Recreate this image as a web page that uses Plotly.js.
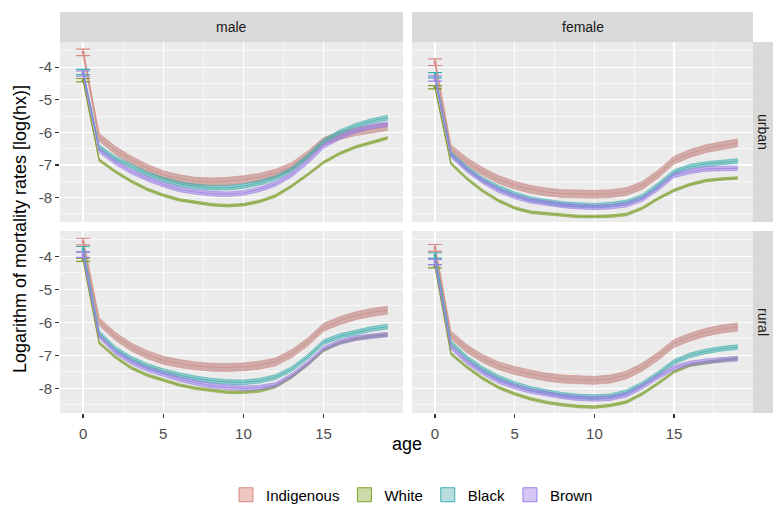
<!DOCTYPE html>
<html><head><meta charset="utf-8">
<script src="https://cdn.plot.ly/plotly-3.0.1.min.js"></script>
<style>body{margin:0;background:#fff}#chart{width:773px;height:506px}</style>
</head><body><div id="chart"></div>
<script>
const ages = [0,1,2,3,4,5,6,7,8,9,10,11,12,13,14,15,16,17,18,19];
const races = ['Indigenous','White','Black','Brown'];
const yTickVals = [-8,-7,-6,-5,-4];
const yTickText = ['-8','-7','-6','-5','-4'];
const lineColors = ['#D98A84','#7E9E2A','#3DAFB0','#9A80E6'];
const fills = ['rgba(180,120,115,0.55)','rgba(124,160,40,0.5)','rgba(60,170,170,0.5)','rgba(150,120,230,0.5)'];
const legendFills = ['rgba(230,160,155,0.6)','rgba(170,195,110,0.6)','rgba(140,200,200,0.6)','rgba(185,160,240,0.6)'];
// half-width of confidence band (ribbon) and of age-0 error bar, per race
const ciHalf = [0.12, 0.04, 0.07, 0.07];
const errHalf0 = [0.1, 0.05, 0.08, 0.08];

const maleUrbanIndigenous = [-3.55,-6.15,-6.55,-6.85,-7.1,-7.3,-7.42,-7.5,-7.52,-7.5,-7.45,-7.38,-7.25,-7.05,-6.7,-6.28,-6.1,-5.98,-5.9,-5.82];
const maleUrbanWhite      = [-4.4,-6.85,-7.2,-7.5,-7.75,-7.93,-8.07,-8.15,-8.22,-8.25,-8.22,-8.12,-7.95,-7.65,-7.3,-6.92,-6.65,-6.45,-6.3,-6.17];
const maleUrbanBlack      = [-4.15,-6.45,-6.8,-7.05,-7.28,-7.45,-7.58,-7.66,-7.7,-7.7,-7.65,-7.55,-7.4,-7.15,-6.75,-6.28,-6.0,-5.8,-5.65,-5.55];
const maleUrbanBrown      = [-4.2,-6.55,-6.92,-7.2,-7.42,-7.6,-7.75,-7.83,-7.88,-7.9,-7.86,-7.75,-7.58,-7.3,-6.9,-6.42,-6.15,-5.95,-5.82,-5.75];

const femaleUrbanIndigenous = [-3.85,-6.5,-6.9,-7.2,-7.45,-7.62,-7.75,-7.83,-7.88,-7.9,-7.9,-7.88,-7.82,-7.63,-7.28,-6.85,-6.65,-6.5,-6.4,-6.32];
const femaleUrbanWhite      = [-4.62,-6.95,-7.42,-7.8,-8.1,-8.32,-8.45,-8.5,-8.55,-8.58,-8.58,-8.57,-8.52,-8.33,-8.03,-7.78,-7.6,-7.48,-7.43,-7.4];
const femaleUrbanBlack      = [-4.25,-6.65,-7.1,-7.45,-7.7,-7.9,-8.05,-8.13,-8.2,-8.23,-8.25,-8.22,-8.15,-7.98,-7.62,-7.22,-7.05,-6.97,-6.92,-6.88];
const femaleUrbanBrown      = [-4.35,-6.7,-7.15,-7.5,-7.78,-7.97,-8.1,-8.18,-8.24,-8.28,-8.3,-8.28,-8.22,-8.05,-7.72,-7.32,-7.2,-7.12,-7.1,-7.1];

const maleRuralIndigenous = [-3.55,-5.98,-6.42,-6.75,-6.98,-7.15,-7.25,-7.32,-7.36,-7.37,-7.35,-7.3,-7.2,-6.95,-6.6,-6.15,-5.95,-5.8,-5.7,-5.63];
const maleRuralWhite      = [-4.1,-6.62,-7.05,-7.38,-7.6,-7.75,-7.9,-8.0,-8.07,-8.12,-8.12,-8.08,-7.95,-7.66,-7.28,-6.85,-6.62,-6.5,-6.42,-6.38];
const maleRuralBlack      = [-3.78,-6.32,-6.8,-7.1,-7.32,-7.48,-7.6,-7.7,-7.77,-7.81,-7.82,-7.77,-7.66,-7.42,-7.05,-6.6,-6.42,-6.3,-6.2,-6.13];
const maleRuralBrown      = [-3.95,-6.42,-6.9,-7.2,-7.42,-7.58,-7.72,-7.83,-7.92,-7.97,-8.0,-7.98,-7.9,-7.62,-7.25,-6.8,-6.6,-6.48,-6.42,-6.37];

const femaleRuralIndigenous = [-3.74,-6.38,-6.8,-7.1,-7.32,-7.46,-7.57,-7.66,-7.72,-7.75,-7.76,-7.72,-7.6,-7.36,-7.03,-6.64,-6.45,-6.3,-6.2,-6.14];
const femaleRuralWhite      = [-4.3,-6.95,-7.36,-7.7,-7.98,-8.17,-8.32,-8.43,-8.5,-8.55,-8.57,-8.52,-8.42,-8.17,-7.85,-7.5,-7.3,-7.22,-7.15,-7.1];
const femaleRuralBlack      = [-3.97,-6.62,-7.08,-7.42,-7.68,-7.87,-8.02,-8.12,-8.2,-8.25,-8.27,-8.24,-8.12,-7.88,-7.56,-7.2,-7.0,-6.88,-6.8,-6.75];
const femaleRuralBrown      = [-4.17,-6.75,-7.2,-7.52,-7.78,-7.95,-8.08,-8.17,-8.25,-8.3,-8.32,-8.3,-8.2,-7.95,-7.65,-7.38,-7.25,-7.18,-7.13,-7.1];

const panels = [
  {xa:'x',  ya:'y',  series:[maleUrbanIndigenous, maleUrbanWhite, maleUrbanBlack, maleUrbanBrown]},
  {xa:'x2', ya:'y2', series:[femaleUrbanIndigenous, femaleUrbanWhite, femaleUrbanBlack, femaleUrbanBrown]},
  {xa:'x3', ya:'y3', series:[maleRuralIndigenous, maleRuralWhite, maleRuralBlack, maleRuralBrown]},
  {xa:'x4', ya:'y4', series:[femaleRuralIndigenous, femaleRuralWhite, femaleRuralBlack, femaleRuralBrown]}
];

const traces = [];
panels.forEach((p) => {
  p.series.forEach((vals, ri) => {
    const lo = vals.map(v => v - ciHalf[ri]);
    const hi = vals.map(v => v + ciHalf[ri]);
    traces.push({x: ages, y: lo, xaxis: p.xa, yaxis: p.ya, mode: 'lines', line: {width: 0.6, color: lineColors[ri]},
      showlegend: false, hoverinfo: 'skip'});
    traces.push({x: ages, y: hi, xaxis: p.xa, yaxis: p.ya, mode: 'lines', fill: 'tonexty', fillcolor: fills[ri],
      line: {width: 0.6, color: lineColors[ri]}, showlegend: false});
    traces.push({x: ages, y: vals, xaxis: p.xa, yaxis: p.ya, mode: 'lines', line: {width: 0.8, color: lineColors[ri]},
      showlegend: false});
    traces.push({x: [ages[0]], y: [vals[0]], xaxis: p.xa, yaxis: p.ya, mode: 'markers',
      marker: {size: 3, color: lineColors[ri]}, showlegend: false,
      error_y: {type: 'constant', value: errHalf0[ri], color: lineColors[ri], thickness: 1.2, width: 7}});
  });
});
// legend keys (no data drawn)
races.forEach((r, ri) => {
  traces.push({x: [null], y: [null], xaxis: 'x', yaxis: 'y', mode: 'markers', name: r, showlegend: true,
    marker: {symbol: 'square', size: 14, color: legendFills[ri], line: {width: 1, color: lineColors[ri]}}});
});

const W = 773, H = 506;
const xL = [60/W, 403/W], xR = [412/W, 753/W];
const yT = [(H-222)/H, (H-42)/H], yB = [(H-413)/H, (H-231)/H];
const xr = [-1.44, 19.95], yr = [-8.75, -3.23];
const tickFont = {size: 15, color: '#4D4D4D'};
const baseX = {range: xr, tick0: 0, dtick: 5, showgrid: true, gridcolor: '#FFFFFF', gridwidth: 1.2,
  zeroline: false, showline: false, ticks: 'outside', ticklen: 4, tickcolor: '#333333', tickwidth: 1.2,
  tickfont: tickFont, ticklabelstandoff: 3,
  minor: {dtick: 2.5, tick0: 0, showgrid: true, gridcolor: '#FFFFFF', gridwidth: 0.6, ticks: ''}};
const baseY = {range: yr, tickmode: 'array', tickvals: yTickVals, ticktext: yTickText,
  showgrid: true, gridcolor: '#FFFFFF', gridwidth: 1.2,
  zeroline: false, showline: false, ticks: 'outside', ticklen: 4, tickcolor: '#333333', tickwidth: 1.2,
  tickfont: tickFont,
  minor: {dtick: 0.5, tick0: 0, showgrid: true, gridcolor: '#FFFFFF', gridwidth: 0.6, ticks: ''}};
function ax(base, extra) { return Object.assign(JSON.parse(JSON.stringify(base)), extra); }

const stripFill = '#D9D9D9';
const shapes = [
  {type:'rect', xref:'paper', yref:'paper', x0:xL[0], x1:xL[1], y0:(H-42)/H, y1:(H-12)/H, fillcolor:stripFill, line:{width:0}},
  {type:'rect', xref:'paper', yref:'paper', x0:xR[0], x1:xR[1], y0:(H-42)/H, y1:(H-12)/H, fillcolor:stripFill, line:{width:0}},
  {type:'rect', xref:'paper', yref:'paper', x0:753/W, x1:773/W, y0:yT[0], y1:yT[1], fillcolor:stripFill, line:{width:0}},
  {type:'rect', xref:'paper', yref:'paper', x0:753/W, x1:773/W, y0:yB[0], y1:yB[1], fillcolor:stripFill, line:{width:0}}
];
const stripFont = {size: 14, color: '#1A1A1A'};
const A = {xref:'paper', yref:'paper', showarrow:false, xanchor:'center', yanchor:'middle'};
const annotations = [
  Object.assign({text:'male', x:(xL[0]+xL[1])/2, y:(H-27)/H, font:stripFont}, A),
  Object.assign({text:'female', x:(xR[0]+xR[1])/2, y:(H-27)/H, font:stripFont}, A),
  Object.assign({text:'urban', x:763/W, y:(yT[0]+yT[1])/2, textangle:90, font:stripFont}, A),
  Object.assign({text:'rural', x:763/W, y:(yB[0]+yB[1])/2, textangle:90, font:stripFont}, A),
  Object.assign({text:'age', x:407/W, y:(H-444)/H, font:{size:18, color:'#000000'}}, A),
  Object.assign({text:'Logarithm of mortality rates [log(hx)]', x:20/W, y:(H-229)/H, textangle:-90,
    font:{size:18, color:'#000000'}}, A)
];

const layout = {
  width: W, height: H, margin: {l:0, r:0, t:0, b:0, autoexpand: false},
  paper_bgcolor: '#FFFFFF', plot_bgcolor: '#EBEBEB',
  font: {family: 'Liberation Sans, Arial, sans-serif'},
  xaxis:  ax(baseX, {domain: xL, anchor: 'y',  showticklabels: false, ticks: ''}),
  xaxis2: ax(baseX, {domain: xR, anchor: 'y2', showticklabels: false, ticks: ''}),
  xaxis3: ax(baseX, {domain: xL, anchor: 'y3'}),
  xaxis4: ax(baseX, {domain: xR, anchor: 'y4'}),
  yaxis:  ax(baseY, {domain: yT, anchor: 'x'}),
  yaxis2: ax(baseY, {domain: yT, anchor: 'x2', showticklabels: false, ticks: ''}),
  yaxis3: ax(baseY, {domain: yB, anchor: 'x3'}),
  yaxis4: ax(baseY, {domain: yB, anchor: 'x4', showticklabels: false, ticks: ''}),
  shapes: shapes, annotations: annotations,
  showlegend: true,
  legend: {orientation: 'h', x: 412/W, xanchor: 'center', y: (H-495)/H, yanchor: 'middle', traceorder: 'normal',
    font: {size: 15, color: '#000000'}, bgcolor: 'rgba(0,0,0,0)', itemwidth: 30, tracegroupgap: 0}
};

Plotly.newPlot('chart', traces, layout, {staticPlot: true});
</script></body></html>
